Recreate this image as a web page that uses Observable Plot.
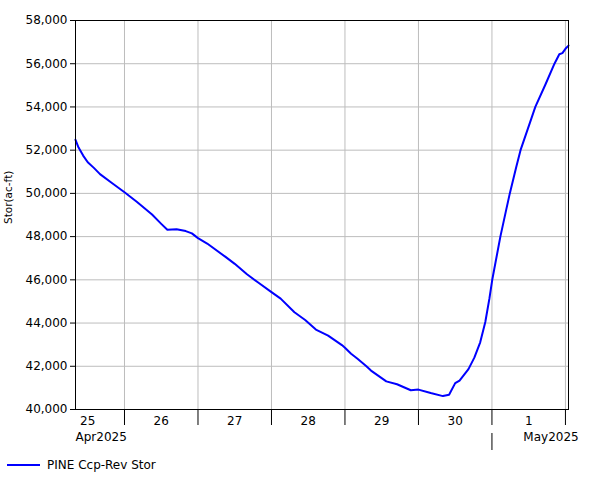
<!DOCTYPE html>
<html>
<head>
<meta charset="utf-8">
<script src="https://cdn.jsdelivr.net/npm/d3@7"></script>
<script src="https://cdn.jsdelivr.net/npm/@observablehq/plot@0.6"></script>
<style>
  body { margin: 0; background: white; font-family: "DejaVu Sans", sans-serif; }
  #legend { position: relative; height: 28px; width: 601px; font-size: 12px; }
  #legend .ln { position: absolute; left: 7px; top: 12px; width: 33px; height: 2px; background: #0000ff; }
  #legend .tx { position: absolute; left: 47px; top: 5px; line-height: 16px; }
</style>
</head>
<body>
<div id="chart"></div>
<div id="legend"><span class="ln"></span><span class="tx"></span></div>
<script>
const seriesName = "PINE Ccp-Rev Stor";
const yLabel = "Stor(ac-ft)";
const times = [
  "2025-04-25T08:00Z","2025-04-25T09:00Z","2025-04-25T10:30Z","2025-04-25T12:00Z","2025-04-25T14:00Z","2025-04-25T16:00Z","2025-04-25T20:00Z",
  "2025-04-26T00:00Z","2025-04-26T04:00Z","2025-04-26T09:00Z","2025-04-26T12:00Z","2025-04-26T14:00Z","2025-04-26T17:00Z","2025-04-26T20:00Z","2025-04-26T22:00Z",
  "2025-04-27T00:00Z","2025-04-27T03:00Z","2025-04-27T09:00Z","2025-04-27T12:00Z","2025-04-27T16:00Z","2025-04-27T20:00Z",
  "2025-04-28T00:00Z","2025-04-28T03:00Z","2025-04-28T07:30Z","2025-04-28T11:00Z","2025-04-28T14:30Z","2025-04-28T18:30Z","2025-04-28T23:00Z",
  "2025-04-29T00:00Z","2025-04-29T02:00Z","2025-04-29T04:00Z","2025-04-29T07:00Z","2025-04-29T08:30Z","2025-04-29T13:30Z","2025-04-29T17:00Z","2025-04-29T21:30Z",
  "2025-04-30T00:00Z","2025-04-30T04:00Z","2025-04-30T08:00Z","2025-04-30T10:00Z","2025-04-30T12:00Z","2025-04-30T13:25Z","2025-04-30T16:20Z","2025-04-30T18:15Z","2025-04-30T20:10Z","2025-04-30T21:50Z","2025-04-30T23:10Z",
  "2025-05-01T00:05Z","2025-05-01T02:45Z","2025-05-01T04:40Z","2025-05-01T05:50Z","2025-05-01T07:55Z","2025-05-01T09:20Z","2025-05-01T12:50Z","2025-05-01T14:10Z","2025-05-01T17:30Z","2025-05-01T20:25Z","2025-05-01T22:00Z","2025-05-01T23:00Z",
  "2025-05-02T00:00Z","2025-05-02T01:00Z"
];
const stor = [
  52480,52120,51750,51440,51180,50890,50470,
  50050,49610,49020,48590,48315,48345,48255,48150,
  47930,47680,47060,46740,46260,45840,
  45430,45130,44500,44140,43700,43420,42980,
  42860,42580,42360,42000,41800,41300,41170,40890,
  40920,40760,40620,40680,41220,41340,41870,42400,43110,44050,45130,
  45990,48000,49250,50000,51210,52000,53450,54000,55050,56000,56440,56490,
  56690,56840
];
const xDomain = ["2025-04-25T08:00Z", "2025-05-02T01:00Z"];
const dayBounds = ["2025-04-26","2025-04-27","2025-04-28","2025-04-29","2025-04-30","2025-05-01","2025-05-02"];
const dayLabelDates = ["2025-04-25T12:00Z","2025-04-26T12:00Z","2025-04-27T12:00Z","2025-04-28T12:00Z","2025-04-29T12:00Z","2025-04-30T12:00Z","2025-05-01T12:00Z"];
const dayLabels = ["25","26","27","28","29","30","1"];
const monthStarts = ["2025-05-01"];
const monthLabels = ["Apr2025","May2025"];
const monthLabelDates = ["2025-04-25T08:00Z","2025-05-01T10:15Z"];
const yTicks = [40000,42000,44000,46000,48000,50000,52000,54000,56000,58000];
const yGrid = [42000,44000,46000,48000,50000,52000,54000,56000];

const data = times.map((t, i) => ({date: new Date(t), value: stor[i]}));
const bounds = dayBounds.map(d => new Date(d + "T00:00Z"));
const dayLbl = dayLabelDates.map((d, i) => ({date: new Date(d), label: dayLabels[i]}));
const monthLbl = monthLabelDates.map((d, i) => ({date: new Date(d), label: monthLabels[i]}));
const mStarts = monthStarts.map(d => new Date(d + "T00:00Z"));

const chart = Plot.plot({
  width: 601,
  height: 452,
  marginTop: 20,
  marginBottom: 43,
  marginLeft: 75,
  marginRight: 33,
  style: {fontFamily: "DejaVu Sans", fontSize: "12px", background: "white", color: "black"},
  x: {type: "utc", domain: xDomain.map(d => new Date(d))},
  y: {domain: [40000, 58000]},
  marks: [
    Plot.gridX(bounds, {stroke: "#bdbdbd", strokeOpacity: 1}),
    Plot.gridY(yGrid, {stroke: "#bdbdbd", strokeOpacity: 1}),
    Plot.line(data, {x: "date", y: "value", stroke: "#0000ff", strokeWidth: 2}),
    Plot.frame({stroke: "black"}),
    Plot.axisY(yTicks, {tickSize: 5, tickPadding: 3, tickFormat: d3.format(","), label: null, fontSize: 12}),
    Plot.axisX(bounds, {tickSize: 16, tickFormat: () => "", label: null}),
    Plot.axisX(mStarts, {tickSize: 17, dy: 24, tickFormat: () => "", label: null}),
    Plot.text(dayLbl, {x: "date", text: "label", frameAnchor: "bottom", dy: 15, fontSize: 12}),
    Plot.text(monthLbl.slice(0, 1), {x: "date", text: "label", frameAnchor: "bottom", dy: 31, textAnchor: "start", fontSize: 12}),
    Plot.text(monthLbl.slice(1), {x: "date", text: "label", frameAnchor: "bottom", dy: 31, textAnchor: "start", fontSize: 12}),
    Plot.text([yLabel], {text: d => d, frameAnchor: "left", dx: -67, dy: 9, rotate: -90, fontSize: 10.5})
  ]
});
document.getElementById("chart").appendChild(chart);
document.querySelector("#legend .tx").textContent = seriesName;
</script>
</body>
</html>
